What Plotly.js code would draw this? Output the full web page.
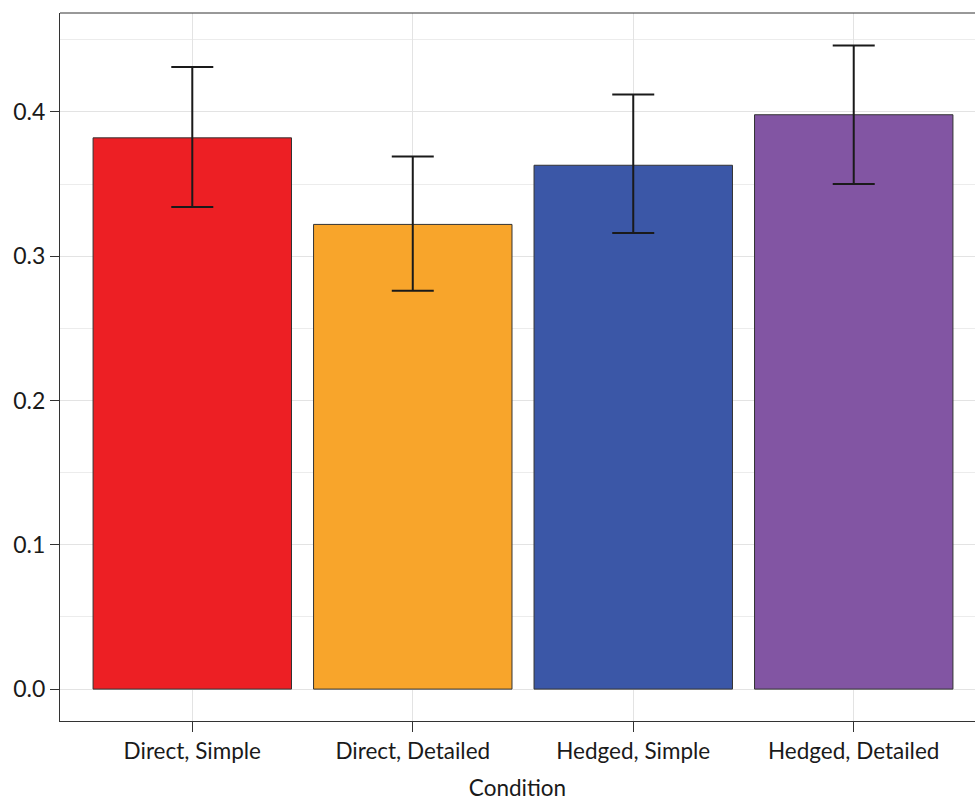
<!DOCTYPE html>
<html><head><meta charset="utf-8">
<script src="https://cdn.plot.ly/plotly-3.0.1.min.js"></script>
<style>html,body{margin:0;padding:0;background:#fff}</style>
</head><body>
<div id="chart" style="width:975px;height:801px"></div>
<script>
const categories = ["Direct, Simple", "Direct, Detailed", "Hedged, Simple", "Hedged, Detailed"];
const means = [0.382, 0.322, 0.363, 0.398];
const errUpper = [0.431, 0.369, 0.412, 0.446];
const errLower = [0.334, 0.276, 0.316, 0.350];
const colors = ["#ED1F24", "#F8A52B", "#3B57A7", "#8255A3"];

const plus = means.map((m, i) => errUpper[i] - m);
const minus = means.map((m, i) => m - errLower[i]);

const trace = {
  type: "bar",
  x: [0, 1, 2, 3],
  y: means,
  width: 0.9,
  marker: {color: colors, line: {color: "#333333", width: 1}},
  error_y: {type: "data", symmetric: false, array: plus, arrayminus: minus,
            color: "#1a1a1a", thickness: 2, width: 21},
  hoverinfo: "skip"
};

const layout = {
  width: 975, height: 801,
  margin: {l: 60, r: 0, t: 13, b: 80},
  paper_bgcolor: "#ffffff", plot_bgcolor: "#ffffff",
  showlegend: false,
  font: {family: "Lato, 'Open Sans', sans-serif", color: "#1a1a1a"},
  xaxis: {
    range: [-0.6, 3.55],
    tickvals: [0, 1, 2, 3], ticktext: categories,
    ticks: "outside", ticklen: 10, tickwidth: 1, tickcolor: "#333333",
    showline: true, linecolor: "#333333", linewidth: 1,
    showgrid: true, gridcolor: "#e3e3e3", gridwidth: 1,
    zeroline: false,
    tickfont: {size: 22.5, color: "#1a1a1a"},
    title: {text: "Condition", font: {size: 22.5, color: "#1a1a1a"}, standoff: 21}
  },
  yaxis: {
    range: [-0.0221, 0.4685],
    tickvals: [0, 0.1, 0.2, 0.3, 0.4], ticktext: ["0.0", "0.1", "0.2", "0.3", "0.4"],
    ticks: "outside", ticklen: 9, tickwidth: 1, tickcolor: "#333333",
    showline: true, linecolor: "#333333", linewidth: 1,
    showgrid: true, gridcolor: "#e3e3e3", gridwidth: 1,
    zeroline: false,
    minor: {tickvals: [0.05, 0.15, 0.25, 0.35, 0.45], showgrid: true, gridcolor: "#ececec", gridwidth: 1, ticks: ""},
    tickfont: {size: 23, color: "#1a1a1a"}
  },
  shapes: [
    {type: "line", xref: "paper", yref: "paper", x0: 0, x1: 1, y0: 1, y1: 1,
     line: {color: "#333333", width: 1}}
  ],
  bargap: 0.1
};

Plotly.newPlot("chart", [trace], layout, {displayModeBar: false, staticPlot: true});
</script>
</body></html>
